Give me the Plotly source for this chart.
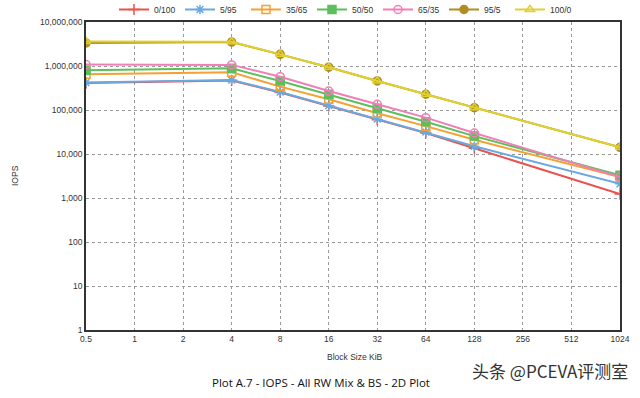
import plotly.graph_objects as go

block_sizes = [0.5, 4, 8, 16, 32, 64, 128, 1024]
x_ticks = [0.5, 1, 2, 4, 8, 16, 32, 64, 128, 256, 512, 1024]
x_tick_labels = ["0.5", "1", "2", "4", "8", "16", "32", "64", "128", "256", "512", "1024"]
y_ticks = [1, 10, 100, 1000, 10000, 100000, 1000000, 10000000]
y_tick_labels = ["1", "10", "100", "1,000", "10,000", "100,000", "1,000,000", "10,000,000"]

names = ["0/100", "5/95", "35/65", "50/50", "65/35", "95/5", "100/0"]
iops_0_100 = [410000, 470000, 250000, 124000, 60000, 30000, 13500, 1230]
iops_5_95 = [420000, 480000, 256000, 126000, 62000, 31600, 15000, 2100]
iops_35_65 = [650000, 720000, 340000, 175000, 84000, 43000, 21000, 3000]
iops_50_50 = [800000, 885000, 456000, 228000, 110000, 54000, 25500, 3300]
iops_65_35 = [1080000, 1060000, 571000, 270000, 135000, 67000, 30000, 3000]
iops_95_5 = [3350000, 3500000, 1840000, 940000, 458000, 228000, 113000, 14200]
iops_100_0 = [3600000, 3550000, 1840000, 940000, 458000, 228000, 113000, 14200]

series = [iops_0_100, iops_5_95, iops_35_65, iops_50_50, iops_65_35, iops_95_5, iops_100_0]
colors = ["#e8534f", "#6aa8e0", "#f5a033", "#5cbf5c", "#ef7fb7", "#b08d22", "#e0d030"]
symbols = ["cross-thin-open", "asterisk-open", "square-open", "square", "circle-open", "circle", "triangle-up-open"]

FONT = "Liberation Sans, Arial"

fig = go.Figure()
for name, vals, col, sym in zip(names, series, colors, symbols):
    fig.add_trace(go.Scatter(
        x=block_sizes, y=vals, name=name, mode="lines+markers",
        line=dict(color=col, width=2),
        marker=dict(symbol=sym, size=8, color=col, line=dict(color=col, width=1.5)),
    ))

axis_common = dict(
    showline=True, linecolor="#333333", linewidth=1.5, mirror=True,
    showgrid=True, gridcolor="#999999", griddash="dot", gridwidth=1,
    ticks="", tickfont=dict(family=FONT, size=8.5, color="#333333"),
    zeroline=False, automargin=False,
)

fig.update_xaxes(type="log", range=[-0.30103, 3.0103], tickvals=x_ticks, ticktext=x_tick_labels,
                 **axis_common)
fig.update_yaxes(type="log", range=[0, 7], tickvals=y_ticks, ticktext=y_tick_labels,
                 **axis_common)

fig.update_layout(
    width=640, height=398,
    margin=dict(l=86, r=20, t=22, b=68, autoexpand=False),
    paper_bgcolor="white", plot_bgcolor="white",
    showlegend=True,
    legend=dict(orientation="h", xref="paper", yref="paper",
                x=0.0524, xanchor="left", y=1.0877, yanchor="top",
                font=dict(family=FONT, size=8.5, color="#333333"),
                entrywidth=21, entrywidthmode="pixels", itemwidth=30,
                bgcolor="rgba(0,0,0,0)"),
    annotations=[
        dict(text="IOPS", xref="paper", yref="paper", x=0, y=0.5, xshift=-71,
             textangle=-90, xanchor="center", yanchor="middle", showarrow=False,
             font=dict(family=FONT, size=8.5, color="#333333")),
        dict(text="Block Size KiB", xref="paper", yref="paper", x=0.504, y=-0.088,
             xanchor="center", yanchor="middle", showarrow=False,
             font=dict(family=FONT, size=8.5, color="#333333")),
        dict(text="Plot A.7 - IOPS - All RW Mix & BS - 2D Plot", xref="paper", yref="paper",
             x=0.44, y=-0.172, xanchor="center", yanchor="middle", showarrow=False,
             font=dict(family="Open Sans", size=11.5, color="#111111")),
        dict(text="头条 @PCEVA评测室", xref="paper", yref="paper",
             x=1.019, y=-0.13, xanchor="right", yanchor="middle", showarrow=False,
             font=dict(family="Noto Sans CJK SC", size=17, color="#333333")),
    ],
)

fig.write_html("out.html", config={"displayModeBar": False},
               post_script="document.body.style.margin='0';document.body.style.overflow='hidden';")
